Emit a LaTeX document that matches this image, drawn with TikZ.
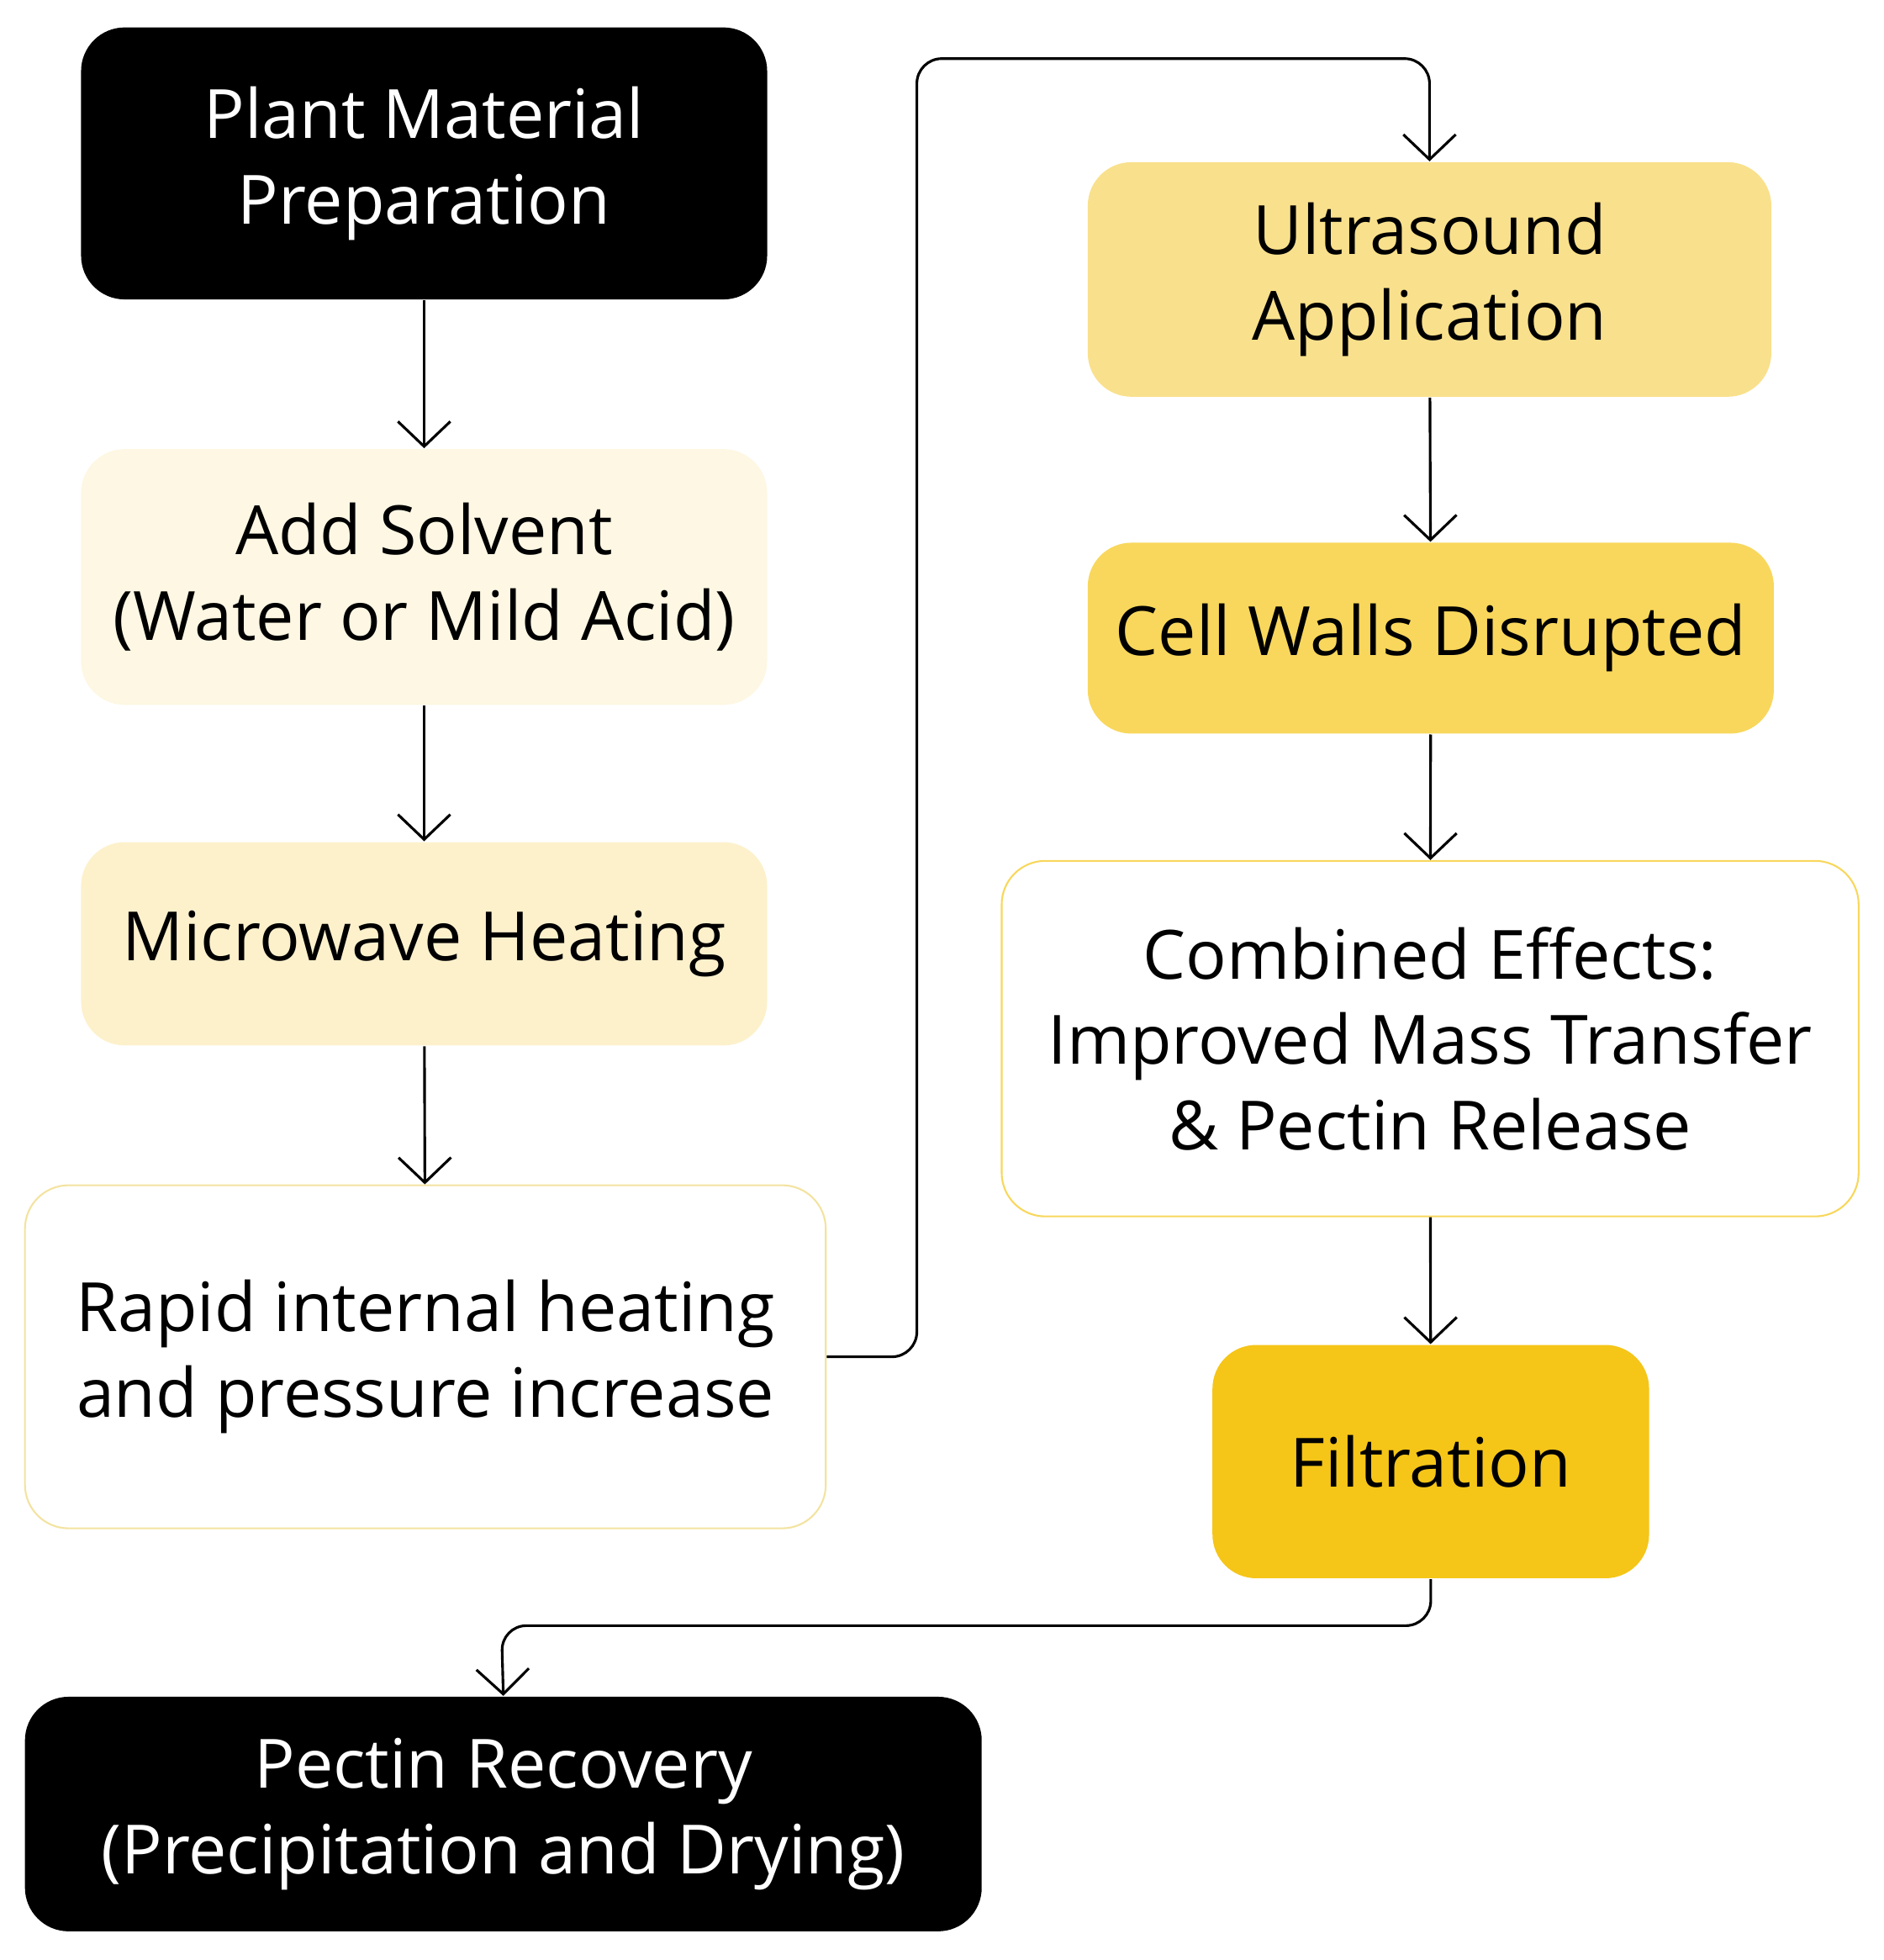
\documentclass[tikz,border=0pt]{standalone}
\usepackage{fontspec}
\setmainfont{Open Sans}
\usetikzlibrary{arrows.meta}
\definecolor{pale1}{HTML}{FDF7E3}
\definecolor{pale2}{HTML}{FDF1CC}
\definecolor{yel1}{HTML}{F9E08C}
\definecolor{yel2}{HTML}{F8D75C}
\definecolor{yel3}{HTML}{F5C518}
\definecolor{edge1}{HTML}{F3E3A0}
\tikzset{
  box/.style={rounded corners=0.35cm, align=center, inner sep=0pt,
    font=\fontsize{15.5}{19.5}\selectfont},
  dark/.style={box, fill=black, text=white},
  flow/.style={-{Straight Barb[length=2mm,width=4.2mm]}, semithick}
}
\begin{document}
\begin{tikzpicture}
  \useasboundingbox (0,0) rectangle (15.1,-15.71);
  \node[dark, minimum width=5.5cm, minimum height=2.18cm] (plant) at (3.40,-1.31) {Plant Material\\Preparation};
  \node[box, fill=pale1, minimum width=5.5cm, minimum height=2.05cm] (solvent) at (3.40,-4.625) {Add Solvent\\(Water or Mild Acid)};
  \node[box, fill=pale2, minimum width=5.5cm, minimum height=1.63cm] (micro) at (3.40,-7.565) {Microwave Heating};
  \node[box, draw=edge1, fill=white, minimum width=6.42cm, minimum height=2.75cm] (rapid) at (3.41,-10.875) {Rapid internal heating\\and pressure increase};
  \node[box, fill=yel1, minimum width=5.48cm, minimum height=1.88cm] (ultra) at (11.46,-2.24) {Ultrasound\\Application};
  \node[box, fill=yel2, minimum width=5.5cm, minimum height=1.53cm] (walls) at (11.47,-5.115) {Cell Walls Disrupted};
  \node[box, draw=yel2, fill=white, minimum width=6.87cm, minimum height=2.85cm] (combined) at (11.465,-8.325) {Combined Effects:\\Improved Mass Transfer\\\& Pectin Release};
  \node[box, fill=yel3, minimum width=3.5cm, minimum height=1.87cm] (filter) at (11.47,-11.715) {Filtration};
  \node[dark, minimum width=7.67cm, minimum height=1.88cm] (recovery) at (4.035,-14.54) {Pectin Recovery\\(Precipitation and Drying)};
  \coordinate (up) at (7.35,-0.47);
  \coordinate (down) at (4.02,-13.03);
  \draw[flow] (plant) -- (solvent);
  \draw[flow] (solvent) -- (micro);
  \draw[flow] (micro) -- (rapid);
  \draw[flow, rounded corners=0.2cm] (rapid.east) -| (up) -| (ultra.north);
  \draw[flow] (ultra) -- (walls);
  \draw[flow] (walls) -- (combined);
  \draw[flow] (combined) -- (filter);
  \draw[flow, rounded corners=0.2cm] (filter.south) |- (down) -- (recovery.north);
\end{tikzpicture}
\end{document}
